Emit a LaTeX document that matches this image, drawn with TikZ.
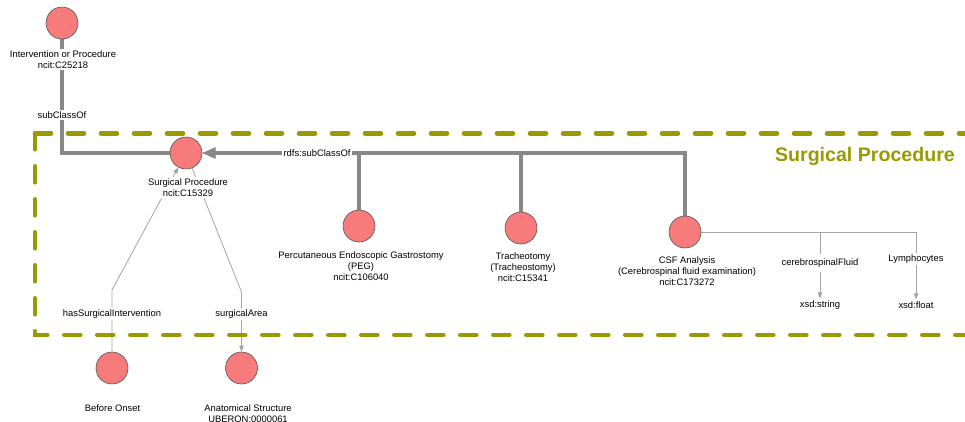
\documentclass[tikz,border=0pt]{standalone}
\usepackage{fontspec}
\setmainfont{Liberation Sans}
\usetikzlibrary{arrows.meta,backgrounds}

\definecolor{classfill}{HTML}{F77B7B}
\definecolor{classdraw}{HTML}{555555}
\definecolor{subgray}{HTML}{888888}
\definecolor{propgray}{HTML}{A4A4A4}
\definecolor{groupolive}{HTML}{999900}

\begin{document}
\begin{tikzpicture}[x=1pt,y=-1pt,
  font=\fontsize{9.4}{11}\selectfont,
  cls/.style={circle, fill=classfill, draw=classdraw, line width=0.6pt,
    minimum size=32pt, inner sep=0pt},
  lbl/.style={fill=white, align=center, inner sep=2pt},
  edgelbl/.style={fill=white, inner sep=2pt},
  subedge/.style={draw=subgray, line width=3.2pt},
  subarrow/.style={subedge, -{Triangle[length=13pt,width=10pt]}},
  propedge/.style={draw=propgray, line width=0.8pt,
    -{Triangle[length=6pt,width=4.5pt]}},
  frame/.style={draw=groupolive, line width=4.6pt, line cap=round,
    dash pattern=on 16pt off 17pt},
  grouptitle/.style={text=groupolive, inner sep=0pt,
    font=\bfseries\fontsize{19.6}{22}\selectfont}]

\useasboundingbox (0,0) rectangle (965,421);

% group frame
\draw[frame] (35,133.3) -- (990,133.3);
\draw[frame] (35,133.3) -- (35,335) -- (990,335);
\node[grouptitle, anchor=base east] (title) at (955,161.5) {Surgical Procedure};

% classes
\node[cls] (ip)  at (62,23) {};
\node[cls] (sp)  at (186,153) {};
\node[cls] (peg) at (359,226) {};
\node[cls] (tr)  at (521,228) {};
\node[cls] (csf) at (685,232) {};
\node[cls] (bo)  at (112,368) {};
\node[cls] (as)  at (241.5,368) {};

% class captions
\node[lbl] (ip-l)  at (63,59.5)   {Intervention or Procedure\\ncit:C25218};
\node[lbl] (sp-l)  at (188,187.5) {Surgical Procedure\\ncit:C15329};
\node[lbl] (peg-l) at (361,266)   {Percutaneous Endoscopic Gastrostomy\\(PEG)\\ncit:C106040};
\node[lbl] (tr-l)  at (523,267.5) {Tracheotomy\\(Tracheostomy)\\ncit:C15341};
\node[lbl] (csf-l) at (687,271)   {CSF Analysis\\(Cerebrospinal fluid examination)\\ncit:C173272};
\node[lbl] (bo-l)  at (112.5,407.7) {Before Onset};
\node[lbl] (as-l)  at (248,414)   {Anatomical Structure\\UBERON:0000061};

% datatypes
\node[lbl] (xs) at (820,305) {xsd:string};
\node[lbl] (xf) at (916,305) {xsd:float};

% bend points of the property links
\coordinate (hsi-bend) at (112,290);
\coordinate (sa-bend)  at (241.5,292);

\begin{scope}[on background layer]
  \draw[subedge]  (ip)  |- (sp);
  \draw[subarrow] (peg) |- (sp);
  \draw[subarrow] (tr)  |- (sp);
  \draw[subarrow] (csf) |- (sp);
  \draw[propedge] (bo) -- (hsi-bend) -- (sp);
  \draw[propedge] (sp) -- (sa-bend) -- (as);
  \draw[propedge] (csf) -| (xs);
  \draw[propedge] (csf) -| (xf);
\end{scope}

% link labels
\node[edgelbl] (l-sub)  at (62,115)    {subClassOf};
\node[edgelbl] (l-rdfs) at (317,153)   {rdfs:subClassOf};
\node[edgelbl] (l-hsi)  at (112,314)   {hasSurgicalIntervention};
\node[edgelbl] (l-sa)   at (241.5,314) {surgicalArea};
\node[edgelbl, minimum height=18pt] (l-csf) at (820,263) {cerebrospinalFluid};
\node[edgelbl] (l-lym)  at (916,259)   {Lymphocytes};
\end{tikzpicture}
\end{document}
